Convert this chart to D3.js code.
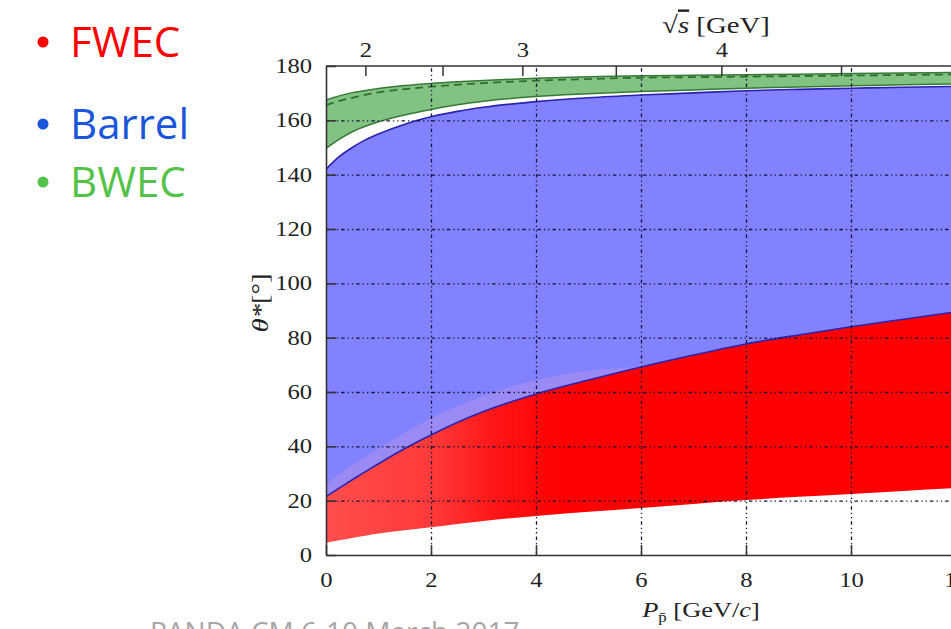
<!DOCTYPE html>
<html><head><meta charset="utf-8">
<script src="https://cdn.jsdelivr.net/npm/d3@7"></script>
<style>body{margin:0;background:#fff;overflow:hidden} svg{display:block}</style>
</head><body>
<svg id="c" width="951" height="629"></svg>
<script>
// ---- data ----
const momentum   = [0,0.25,0.5,0.75,1,1.5,2,2.5,3,4,5,6,7,8,9,10,11,12];
const fwecLower  = [4.5,5.4,6.3,7.1,7.9,9.1,10.2,11.4,12.5,14.4,15.9,17.3,18.8,20.2,21.4,22.5,23.6,24.7];
const fwecUpper  = [21.5,24.6,27.7,30.7,33.6,39.2,44.2,48.8,52.8,59.3,64.4,69.2,73.6,77.7,81,84,86.8,89.5];
const overlapTop = [26,29.6,33,36.2,39.2,45,50.3,54.8,58.6,64.3,67.8,69.6,73.6,77.7,81,84,86.8,89.5];
const barrelUpper= [142,146.6,150,152.8,155,158.6,161.3,163.3,164.8,166.9,168.3,169.3,170.1,170.9,171.4,171.8,172.2,172.5];
const bwecLower  = [149.7,153,155.8,157.8,159.5,162,164,165.7,167,168.8,169.8,170.6,171.2,171.8,172.3,172.7,173.1,173.4];
const bwecUpper  = [167.5,169,170.2,171,171.7,172.8,173.6,174.2,174.7,175.5,176,176.4,176.6,176.8,177,177.2,177.4,177.6];
const bwecDashed = [165.6,167.1,168.3,169.4,170.3,171.5,172.4,173.1,173.7,174.6,175.2,175.7,175.9,176.1,176.3,176.5,176.7,176.9];

const xTicks = [0,2,4,6,8,10,12];
const yTicks = [0,20,40,60,80,100,120,140,160,180];
const gridX = [2,4,6,8,10];
const gridY = [20,40,60,80,100,120,140,160];
const sqrtsTicks = [2,2.5,3,3.5,4,4.5];
const sqrtsTickMomentum = [0.75,2.22,3.74,5.52,7.53,9.81];

const legendNames = ["FWEC","Barrel","BWEC"];
const legendColors = ["#ff0000","#1a56db","#55c24a"];

// ---- layout ----
const svg = d3.select("#c");
const L = 326, R = 956, T = 66, B = 555;
const x = d3.scaleLinear().domain([0,12]).range([L,R]);
const y = d3.scaleLinear().domain([0,180]).range([B,T]);
const xTop = d3.scaleLinear().domain(sqrtsTicks).range(sqrtsTickMomentum.map(x));

const defs = svg.append("defs");
defs.append("clipPath").attr("id","plot").append("rect")
  .attr("x",L).attr("y",T).attr("width",R-L).attr("height",B-T);
const g1 = defs.append("linearGradient").attr("id","redg")
  .attr("gradientUnits","userSpaceOnUse").attr("x1",x(0)).attr("x2",x(12)).attr("y1",0).attr("y2",0);
[[0,"#ff4d4d"],[2,"#ff3a3a"],[3.3,"#ff1414"],[4.5,"#ff0000"],[12,"#ff0000"]].forEach(([p,c])=>
  g1.append("stop").attr("offset",p/12).attr("stop-color",c));

const rows = momentum.map((p,i)=>({p, rl:fwecLower[i], ru:fwecUpper[i], ov:overlapTop[i],
  bu:barrelUpper[i], gl:bwecLower[i], gu:bwecUpper[i], gd:bwecDashed[i]}));

const area = (lo,hi)=>d3.area().curve(d3.curveMonotoneX).x(d=>x(d.p)).y0(d=>y(d[lo])).y1(d=>y(d[hi]));
const line = (k)=>d3.line().curve(d3.curveMonotoneX).x(d=>x(d.p)).y(d=>y(d[k]));

const plot = svg.append("g").attr("clip-path","url(#plot)");
plot.append("path").attr("d",area("ru","bu")(rows)).attr("fill","#8282ff");
plot.append("path").attr("d",area("ru","ov")(rows)).attr("fill","#9a8af4");
plot.append("path").attr("d",area("rl","ru")(rows)).attr("fill","url(#redg)");
plot.append("path").attr("d",area("gl","gu")(rows)).attr("fill","#82c282");
plot.append("path").attr("d",line("ru")(rows)).attr("fill","none").attr("stroke","#2a22b0").attr("stroke-width",1.6);
plot.append("path").attr("d",line("bu")(rows)).attr("fill","none").attr("stroke","#2a22b0").attr("stroke-width",1.6);
plot.append("path").attr("d",line("gl")(rows)).attr("fill","none").attr("stroke","#377a37").attr("stroke-width",1.5);
plot.append("path").attr("d",line("gu")(rows)).attr("fill","none").attr("stroke","#377a37").attr("stroke-width",1.5);
plot.append("path").attr("d",line("gd")(rows)).attr("fill","none").attr("stroke","#2f6e2f").attr("stroke-width",1.8).attr("stroke-dasharray","8,5");

// grid
const grid = svg.append("g").attr("clip-path","url(#plot)");
grid.append("g").attr("transform",`translate(${L},0)`)
  .call(d3.axisLeft(y).tickValues(gridY).tickSize(-(R-L)).tickFormat(""))
  .call(s=>s.select(".domain").remove());
grid.append("g").attr("transform",`translate(0,${B})`)
  .call(d3.axisBottom(x).tickValues(gridX).tickSize(-(B-T)).tickFormat(""))
  .call(s=>s.select(".domain").remove());
grid.selectAll("line").attr("stroke","#14143c").attr("stroke-width",1.3).attr("stroke-dasharray","3.5,3,1.3,3,1.3,3");

// axes
const SX = 1.2;
function styleAxis(s){
  s.select(".domain").attr("stroke","#333").attr("stroke-width",1.6);
  s.selectAll(".tick line").attr("stroke","#333").attr("stroke-width",1.5);
  s.selectAll(".tick text").attr("font-family","'Liberation Serif',serif").attr("font-size",20.5).attr("fill","#222");
}
const ax = svg.append("g").attr("transform",`translate(0,${B})`)
  .call(d3.axisBottom(x).tickValues(xTicks).tickSizeInner(-10).tickSizeOuter(0).tickPadding(17))
  .call(styleAxis);
ax.selectAll(".tick text").attr("transform",`scale(${SX},1)`);
const ay = svg.append("g").attr("transform",`translate(${L},0)`)
  .call(d3.axisLeft(y).tickValues(yTicks).tickSizeInner(-10).tickSizeOuter(0).tickPadding(14))
  .call(styleAxis);
ay.selectAll(".tick text").attr("x",-14/SX).attr("transform",`scale(${SX},1)`);
const at = svg.append("g").attr("transform",`translate(0,${T})`)
  .call(d3.axisTop(xTop).tickValues(sqrtsTicks).tickSizeInner(-10).tickSizeOuter(0).tickPadding(9)
    .tickFormat(d=>Number.isInteger(d)?d:""))
  .call(styleAxis);
at.selectAll(".tick text").attr("transform",`scale(${SX},1)`);
at.select(".domain").attr("d",`M${L},0H${R}`);

// axis titles
const serif = "'Liberation Serif',serif";
const xt = svg.append("text").attr("font-family",serif).attr("font-size",22).attr("fill","#222")
  .attr("text-anchor","middle").attr("transform",`translate(701,617) scale(${SX},1)`);
xt.append("tspan").attr("font-style","italic").text("P");
xt.append("tspan").attr("font-size",14).attr("dy",5).text("p\u0304");
xt.append("tspan").attr("dy",-5).text(" [GeV/");
xt.append("tspan").attr("font-style","italic").text("c");
xt.append("tspan").text("]");

const tt = svg.append("text").attr("font-family",serif).attr("font-size",24).attr("fill","#222")
  .attr("text-anchor","middle").attr("transform",`translate(716,33) scale(${SX},1)`);
tt.append("tspan").text("\u221A");
tt.append("tspan").attr("font-style","italic").style("text-decoration","overline").text("s");
tt.append("tspan").text(" [GeV]");

const yt = svg.append("text").attr("font-family",serif).attr("font-size",24).attr("fill","#222")
  .attr("text-anchor","middle").attr("transform",`translate(268,303) rotate(-90) scale(${SX},1)`);
yt.append("tspan").attr("font-style","italic").text("\u03B8*");
yt.append("tspan").text("[\u00B0]");

// legend
const legendY = [42,124,182];
const leg = svg.append("g");
legendNames.forEach((n,i)=>{
  const cy = legendY[i];
  leg.append("circle").attr("cx",43).attr("cy",cy).attr("r",5.5).attr("fill",legendColors[i]);
  leg.append("text").attr("x",70).attr("y",cy+15).attr("font-family","'Open Sans',sans-serif")
    .attr("font-size",42).attr("fill",legendColors[i]).text(n);
});

// footer
svg.append("text").attr("x",150).attr("y",642).attr("font-family","'Open Sans',sans-serif")
  .attr("font-size",28).attr("fill","#a6a6a6").text("PANDA CM 6-10 March 2017");
</script>
</body></html>
